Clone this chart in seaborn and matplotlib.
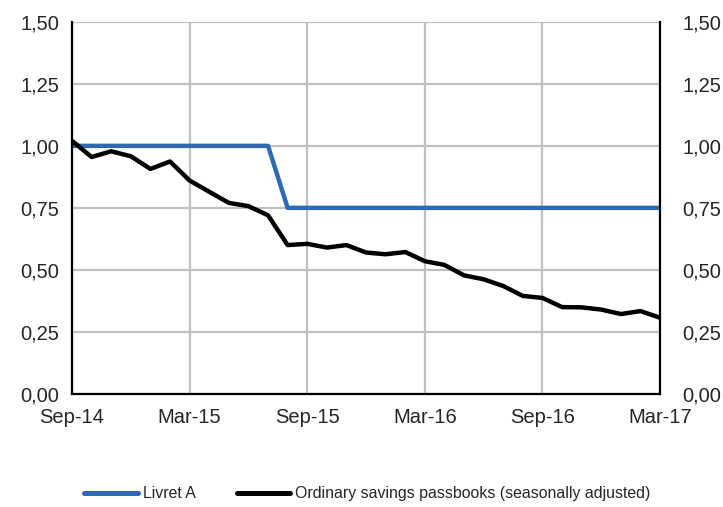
import matplotlib
matplotlib.use("Agg")
import matplotlib.pyplot as plt
import seaborn as sns
import pandas as pd
from matplotlib.lines import Line2D

months = ["Sep-14","Oct-14","Nov-14","Dec-14","Jan-15","Feb-15","Mar-15","Apr-15","May-15","Jun-15",
          "Jul-15","Aug-15","Sep-15","Oct-15","Nov-15","Dec-15","Jan-16","Feb-16","Mar-16","Apr-16",
          "May-16","Jun-16","Jul-16","Aug-16","Sep-16","Oct-16","Nov-16","Dec-16","Jan-17","Feb-17","Mar-17"]
livret_a = [1.00]*11 + [0.75]*20
passbooks = [1.02, 0.955, 0.978, 0.958, 0.907, 0.937, 0.86, 0.815, 0.77, 0.757,
             0.72, 0.60, 0.605, 0.59, 0.60, 0.57, 0.563, 0.572, 0.535, 0.52,
             0.478, 0.462, 0.435, 0.395, 0.387, 0.35, 0.349, 0.34, 0.322, 0.334, 0.307]
tick_labels = ["Sep-14", "Mar-15", "Sep-15", "Mar-16", "Sep-16", "Mar-17"]
y_ticks = [0, 0.25, 0.5, 0.75, 1.0, 1.25, 1.5]
series_names = ["Livret A", "Ordinary savings passbooks (seasonally adjusted)"]

df = pd.DataFrame({"idx": list(range(len(months))), "Livret A": livret_a,
                   "Ordinary savings passbooks (seasonally adjusted)": passbooks})

sns.set_style("white")
plt.rcParams['font.family'] = ['Liberation Sans', 'DejaVu Sans']

fig = plt.figure(figsize=(7.23, 5.07), dpi=100)
ax = fig.add_axes([0.0996, 0.223, 0.8134, 0.734])

colors = ["#2E6AB3", "#000000"]
for name, c in zip(series_names, colors):
    sns.lineplot(data=df, x="idx", y=name, ax=ax, color=c, linewidth=3.2, legend=False)

fs = 14.5
ax.set_xlim(0, len(months) - 1)
ax.set_ylim(0, 1.5)
xt = [months.index(t) for t in tick_labels]
ax.set_xticks(xt)
ax.set_xticklabels(tick_labels, fontsize=fs)
ax.set_yticks(y_ticks)
ax.set_yticklabels([f"{v:.2f}".replace(".", ",") for v in y_ticks], fontsize=fs)
ax.set_xlabel("")
ax.set_ylabel("")
ax.grid(True, color="#c0c0c0", linewidth=1.6)
ax.set_axisbelow(True)
ax.tick_params(axis="x", length=0, pad=10)
ax.tick_params(axis="y", length=0, pad=9)

for s in ["left", "right", "bottom"]:
    ax.spines[s].set_color("black")
    ax.spines[s].set_linewidth(1.6)
ax.spines["top"].set_visible(False)

ax2 = ax.twinx()
ax2.set_ylim(0, 1.5)
ax2.set_yticks(y_ticks)
ax2.set_yticklabels([f"{v:.2f}".replace(".", ",") for v in y_ticks], fontsize=fs)
ax2.tick_params(axis="y", length=0, pad=16)
for s in ax2.spines.values():
    s.set_visible(False)
ax2.grid(False)

handles = [Line2D([0], [0], color=c, linewidth=3.6) for c in colors]
fig.legend(handles, series_names, loc="center", bbox_to_anchor=(0.508, 0.026), ncol=2,
           frameon=False, fontsize=11.4, handlelength=3.4, handletextpad=0.3, columnspacing=2.6)

fig.savefig("out.png", dpi=100)
